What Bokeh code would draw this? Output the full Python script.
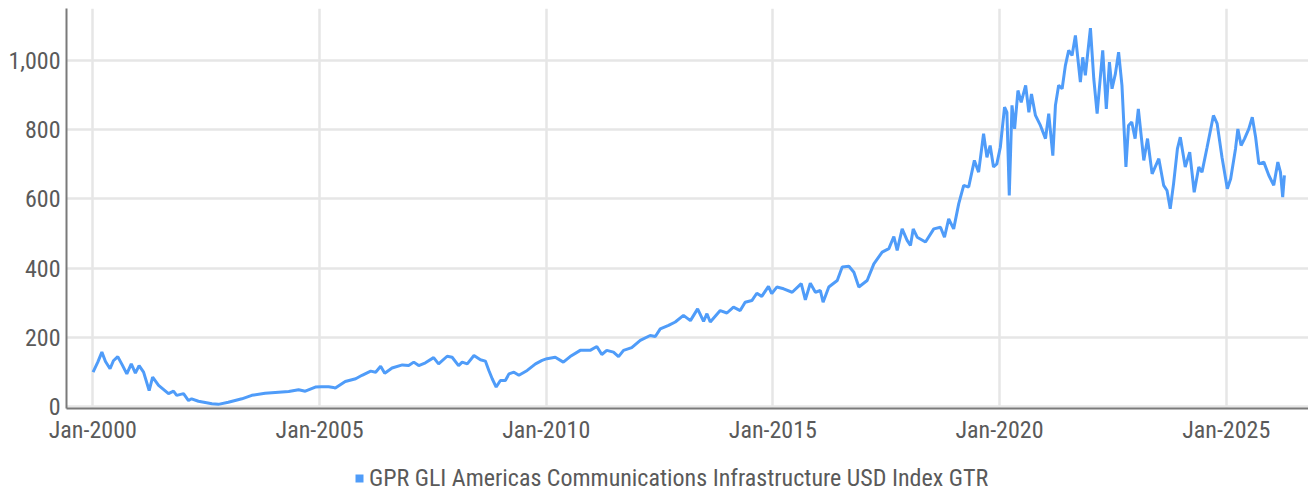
import pandas as pd
from bokeh.plotting import figure
from bokeh.layouts import column
from bokeh.models import (Range1d, FixedTicker, DatetimeTickFormatter, NumeralTickFormatter,
                          Legend, LegendItem, ColumnDataSource)
from bokeh.embed import file_html
from bokeh.resources import INLINE

series_name = "GPR GLI Americas Communications Infrastructure USD Index GTR"

dates = [
    "2000-01-03", "2000-02-10", "2000-03-14", "2000-04-12", "2000-05-19", "2000-06-15", "2000-07-20",
    "2000-08-25", "2000-10-01", "2000-11-06", "2000-12-09",
    "2001-01-08", "2001-02-13", "2001-03-30", "2001-04-27", "2001-06-14", "2001-09-02", "2001-10-12",
    "2001-11-07", "2002-01-01", "2002-02-10", "2002-03-07", "2002-05-01", "2002-08-18", "2002-10-08",
    "2002-12-28", "2003-04-16", "2003-07-05", "2003-10-20", "2004-02-06", "2004-04-27", "2004-07-16",
    "2004-09-08", "2004-11-28",
    "2005-01-15", "2005-03-15", "2005-04-22", "2005-05-08", "2005-07-27", "2005-10-19", "2005-12-09",
    "2006-02-17", "2006-03-29", "2006-05-08", "2006-06-10", "2006-08-08", "2006-10-30", "2006-12-20",
    "2007-01-30", "2007-03-11", "2007-05-04", "2007-07-09", "2007-08-18", "2007-10-26", "2007-12-05",
    "2008-01-26", "2008-02-24", "2008-04-05", "2008-05-29", "2008-07-20", "2008-08-29", "2008-09-26",
    "2008-10-23", "2008-11-24", "2008-12-28", "2009-02-06", "2009-03-07", "2009-04-16", "2009-05-26",
    "2009-08-01", "2009-10-07", "2009-11-29",
    "2010-01-07", "2010-03-15", "2010-05-19", "2010-07-13", "2010-10-02", "2010-12-21", "2011-02-13",
    "2011-03-25", "2011-05-04", "2011-06-27", "2011-08-07", "2011-09-16", "2011-11-21", "2012-01-29",
    "2012-04-18", "2012-05-29", "2012-07-08", "2012-09-13", "2012-11-06", "2013-01-11", "2013-03-08",
    "2013-05-05", "2013-06-22", "2013-07-19", "2013-08-15", "2013-11-03", "2013-12-27", "2014-02-18",
    "2014-04-13", "2014-05-23", "2014-07-16", "2014-08-25", "2014-10-04", "2014-11-27", "2014-12-23",
    "2015-02-02",
    "2015-03-29", "2015-06-06", "2015-08-18", "2015-09-20", "2015-10-30", "2015-12-10", "2016-01-19",
    "2016-02-10", "2016-03-27", "2016-06-03", "2016-07-13", "2016-09-05", "2016-10-15", "2016-11-24",
    "2017-01-30", "2017-03-25", "2017-05-31", "2017-07-24", "2017-09-02", "2017-09-29", "2017-11-08",
    "2017-12-18", "2018-01-14", "2018-02-05", "2018-03-09", "2018-05-15", "2018-07-21", "2018-09-13",
    "2018-10-15", "2018-11-18", "2018-12-28", "2019-02-07", "2019-03-19", "2019-04-28", "2019-06-13",
    "2019-07-17", "2019-08-26", "2019-09-22", "2019-10-18", "2019-11-14", "2019-12-11",
    "2020-01-08", "2020-02-11", "2020-03-01", "2020-03-20", "2020-04-11", "2020-05-02", "2020-05-29",
    "2020-06-24", "2020-07-30", "2020-08-25", "2020-09-15", "2020-10-17", "2020-11-26", "2021-01-06",
    "2021-02-01", "2021-03-06", "2021-03-27", "2021-04-22", "2021-05-20", "2021-06-15", "2021-07-12",
    "2021-08-08", "2021-09-04", "2021-10-14", "2021-11-02", "2021-11-23", "2022-01-03", "2022-01-30",
    "2022-02-26", "2022-04-12", "2022-05-11", "2022-06-05", "2022-06-26", "2022-07-23", "2022-08-18",
    "2022-09-14", "2022-10-16", "2022-11-06", "2022-12-02", "2022-12-29", "2023-01-24",
    "2023-03-09", "2023-04-08", "2023-05-15", "2023-07-08", "2023-08-16", "2023-09-12", "2023-10-08",
    "2023-11-04", "2023-12-05", "2023-12-28", "2024-02-06", "2024-03-13", "2024-04-18", "2024-05-25",
    "2024-06-20", "2024-07-31", "2024-09-20", "2024-10-20", "2024-11-28", "2025-01-10", "2025-02-06",
    "2025-03-17", "2025-04-05", "2025-05-01", "2025-05-29", "2025-07-02", "2025-07-30", "2025-08-26",
    "2025-09-21", "2025-10-31", "2025-12-10", "2026-01-19", "2026-02-21", "2026-03-14", "2026-04-01",
    "2026-04-15",
]

values = [
    99, 128, 157, 130, 109, 132, 144,
    120, 94, 123, 96,
    118, 99, 46, 85, 61, 37, 44,
    32, 37, 17, 22, 15, 8, 6,
    12, 22, 32, 38, 41, 43, 48,
    44, 56,
    57, 57, 55, 53, 72, 80, 90,
    102, 99, 116, 96, 111, 120, 118,
    128, 118, 126, 141, 123, 145, 142,
    118, 128, 123, 147, 135, 131, 104,
    80, 56, 75, 75, 94, 99, 90,
    104, 123, 133,
    138, 142, 128, 144, 162, 162, 173,
    150, 162, 157, 144, 162, 170, 191,
    205, 202, 224, 234, 244, 263, 248,
    282, 246, 268, 244, 277, 270, 287,
    277, 301, 306, 327, 318, 347, 326,
    345,
    340, 330, 355, 308, 356, 330, 335,
    301, 345, 364, 403, 405, 388, 345,
    364, 412, 446, 456, 491, 451, 513,
    480, 465, 513, 489, 475, 513, 518,
    489, 542, 513, 586, 639, 634, 711,
    677, 788, 720, 754, 692, 701,
    749, 865, 850, 610, 870, 802, 913,
    879, 928, 850, 903, 841, 812, 774,
    846, 725, 870, 928, 918, 985, 1029,
    1014, 1072, 937, 1009, 957, 1093, 947,
    846, 1029, 860, 995, 918, 961, 1024,
    928, 692, 812, 822, 774, 860,
    711, 774, 672, 716, 639, 624, 571,
    644, 745, 778, 692, 735, 619, 692,
    677, 749, 841, 817, 720, 629, 658,
    745, 802, 754, 774, 802, 836, 778,
    701, 706, 668, 639, 706, 677, 605,
    668,
]

tick_years = [2000, 2005, 2010, 2015, 2020, 2025]
y_ticks = [0, 200, 400, 600, 800, 1000]

BLUE = "#4f9cf9"
GRID = "#e6e6e6"
AXIS = "#7a7a7a"
LABEL = "#5a5a5a"
FONT = "'Roboto Condensed', 'Liberation Sans Narrow', Roboto"

src = ColumnDataSource(dict(date=pd.to_datetime(dates), value=values))

# ---- main chart ----
p = figure(
    width=1308, height=448,
    x_axis_type="datetime",
    x_range=Range1d(pd.Timestamp("1999-06-03"), pd.Timestamp("2026-10-26")),
    y_range=Range1d(-6, 1150),
    output_backend="svg", toolbar_location=None,
    min_border_left=66, min_border_right=0, min_border_top=8, min_border_bottom=40,
)
p.frame_width = 1242
p.frame_height = 400
p.outline_line_color = None
p.background_fill_color = "white"
p.border_fill_color = "white"

p.line("date", "value", source=src, color=BLUE, line_width=3)

xa = p.xaxis[0]
xa.ticker = FixedTicker(ticks=[pd.Timestamp(f"{y}-01-01").value / 1e6 for y in tick_years])
xa.formatter = DatetimeTickFormatter(years="%b-%Y", months="%b-%Y", days="%b-%Y")
ya = p.yaxis[0]
ya.ticker = FixedTicker(ticks=y_ticks)
ya.formatter = NumeralTickFormatter(format="0,0")
for ax in (xa, ya):
    ax.axis_line_color = AXIS
    ax.axis_line_width = 2
    ax.major_tick_line_color = None
    ax.minor_tick_line_color = None
    ax.major_tick_out = 0
    ax.major_tick_in = 0
    ax.minor_tick_out = 0
    ax.minor_tick_in = 0
    ax.major_label_text_font = FONT
    ax.major_label_text_font_size = "24px"
    ax.major_label_text_color = LABEL
xa.major_label_standoff = 7
ya.major_label_standoff = 6

p.xgrid.grid_line_color = GRID
p.ygrid.grid_line_color = GRID
p.xgrid.grid_line_width = 2.5
p.ygrid.grid_line_width = 2.5

# ---- legend strip (series drawn as zero-size quads outside this strip's ranges) ----
lg = figure(
    width=1308, height=45,
    x_range=Range1d(0, 1), y_range=Range1d(0, 1),
    x_axis_location=None, y_axis_location=None,
    output_backend="svg", toolbar_location=None,
    min_border_left=0, min_border_right=0, min_border_top=0, min_border_bottom=0,
)
lg.outline_line_color = None
lg.xgrid.visible = False
lg.ygrid.visible = False
key = lg.quad(left="date", right="date", bottom="value", top="value", source=src,
              fill_color=BLUE, line_color=BLUE, line_width=0)

legend = Legend(items=[LegendItem(label=series_name, renderers=[key])],
                orientation="horizontal", location=(288, 1))
legend.label_text_font = FONT
legend.label_text_font_size = "24px"
legend.label_text_color = LABEL
legend.border_line_color = None
legend.background_fill_alpha = 0
legend.glyph_width = 10
legend.glyph_height = 10
legend.label_standoff = 5
legend.label_height = 24
legend.padding = 0
legend.margin = 0
lg.add_layout(legend)

layout = column(p, lg, spacing=0)
open("out.html", "w").write(file_html(layout, INLINE))
